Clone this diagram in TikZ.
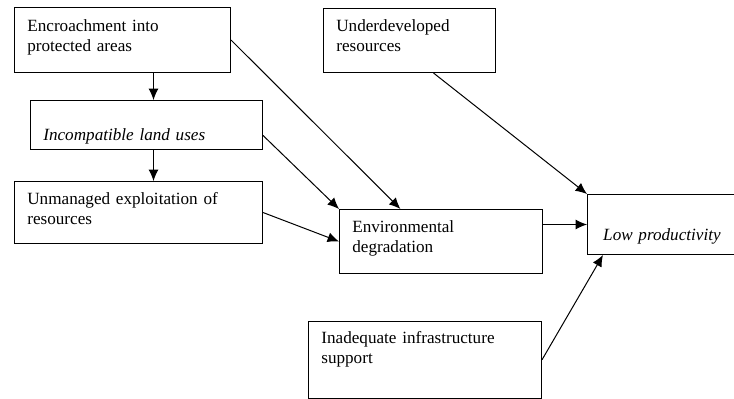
\documentclass[tikz,border=0pt]{standalone}
\usepackage{fontspec}
\setmainfont{Liberation Serif}
\usetikzlibrary{arrows.meta}

\begin{document}
\begin{tikzpicture}[x=0.7pt, y=-0.7pt, >={Latex[length=8pt,width=7pt]},
    box/.style={draw, line width=0.7pt, anchor=north west, align=left,
        inner xsep=9pt, inner ysep=0pt, font=\fontsize{12}{14}\selectfont},
    link/.style={->, line width=0.7pt}]
    \useasboundingbox (0,0) rectangle (734,398);

    % causes on the left
    \node[box, text width=133.2pt, text height=16.6pt, text depth=28.9pt] (enc) at (14,7)
        {Encroachment into\\protected areas};
    \node[box, text width=144.4pt, text height=28pt, text depth=6.3pt] (inc) at (30,100)
        {\textit{Incompatible land uses}};
    \node[box, text width=155.6pt, text height=16.1pt, text depth=27.3pt] (unm) at (14,181)
        {Unmanaged exploitation of\\resources};

    % middle and right
    \node[box, text width=124.1pt, text height=15.9pt, text depth=28.9pt] (env) at (339,209)
        {Environmental\\degradation};
    \node[box, text width=102.4pt, text height=15.9pt, text depth=28.9pt] (und) at (323,8)
        {Underdeveloped\\resources};
    \node[box, text width=145.1pt, text height=15.2pt, text depth=38.4pt] (inad) at (308,321)
        {Inadequate infrastructure\\support};
    \node[box, inner xsep=11pt, text width=88.6pt, text height=32.2pt, text depth=9.8pt] (low) at (587,194)
        {\textit{Low productivity}};

    % arrows
    \draw[link] ([xshift=21.7pt]enc.south) -- ([xshift=21.7pt]enc.south |- inc.north);
    \draw[link] ([xshift=4.9pt]inc.south) -- ([xshift=4.9pt]inc.south |- unm.north);
    \draw[link] (enc.east) -- ([xshift=-28.4pt]env.north);
    \draw[link] ([yshift=-7.3pt]inc.east) -- (env.north west);
    \draw[link] (unm.east) -- (env.west);
    \draw[link] ([xshift=16.8pt]und.south) -- (low.north west);
    \draw[link] (env.east |- low.west) -- (low.west);
    \draw[link] (inad.east) -- ([xshift=11.2pt]low.south west);
\end{tikzpicture}
\end{document}
